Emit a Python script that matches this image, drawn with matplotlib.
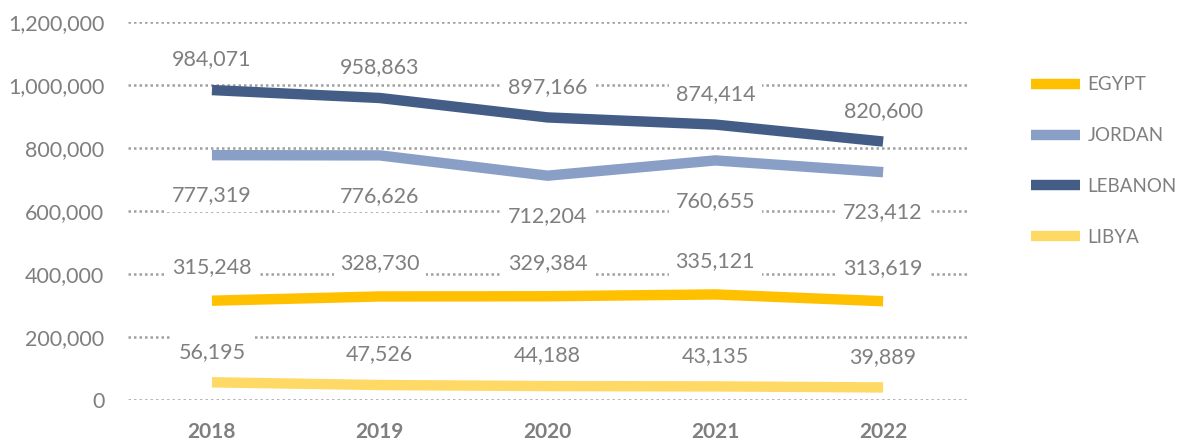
import matplotlib.pyplot as plt
import numpy as np

years = ["2018", "2019", "2020", "2021", "2022"]
egypt = [315248, 328730, 329384, 335121, 313619]
jordan = [777319, 776626, 712204, 760655, 723412]
lebanon = [984071, 958863, 897166, 874414, 820600]
libya = [56195, 47526, 44188, 43135, 39889]

gray = "#7f7f7f"
plt.rcParams['font.family'] = ['Lato', 'DejaVu Sans']

fig = plt.figure(figsize=(11.89, 4.41), dpi=100)
ax = fig.add_axes([0.1077, 0.093, 0.7056, 0.857])

x = np.arange(len(years))
# (name, values, colour, label offset in points)
series = [
    ("EGYPT", egypt, "#ffc000", 24),
    ("JORDAN", jordan, "#8a9fc6", -29),
    ("LEBANON", lebanon, "#445d86", 22),
    ("LIBYA", libya, "#ffd966", 22),
]

for name, vals, col, off in series:
    ax.plot(x, vals, color=col, lw=7.5, solid_capstyle="butt",
            solid_joinstyle="round", label=name, zorder=3)
    for xi, v in zip(x, vals):
        ax.annotate(f"{v:,}", (xi, v), xytext=(0, off), textcoords="offset points",
                    ha="center", va="center", fontsize=15.5, color=gray, zorder=4,
                    bbox=dict(boxstyle="square,pad=0.3", fc="white", ec="none"))

ax.set_xlim(-0.5, 4.5)
ax.set_ylim(0, 1200000)
ax.set_yticks(np.arange(0, 1200001, 200000))
ax.set_yticklabels([f"{t:,}" for t in range(0, 1200001, 200000)])
ax.set_xticks(x)
ax.set_xticklabels(years, fontweight="bold")
ax.tick_params(axis="y", length=0, pad=17, labelsize=15.5, labelcolor=gray)
ax.tick_params(axis="x", length=0, pad=16, labelsize=15, labelcolor=gray)
ax.grid(axis="y", color="#a0a0a0", lw=1.8, ls=(0, (1, 1.2)), zorder=1)
ax.set_axisbelow(True)
for s in ax.spines.values():
    s.set_visible(False)

leg = fig.legend(loc="upper left", bbox_to_anchor=(0.853, 0.865), frameon=False,
                 fontsize=13.5, labelcolor=gray, handlelength=2.6, handletextpad=0.4,
                 labelspacing=1.8)

fig.savefig("out.png", dpi=100)
